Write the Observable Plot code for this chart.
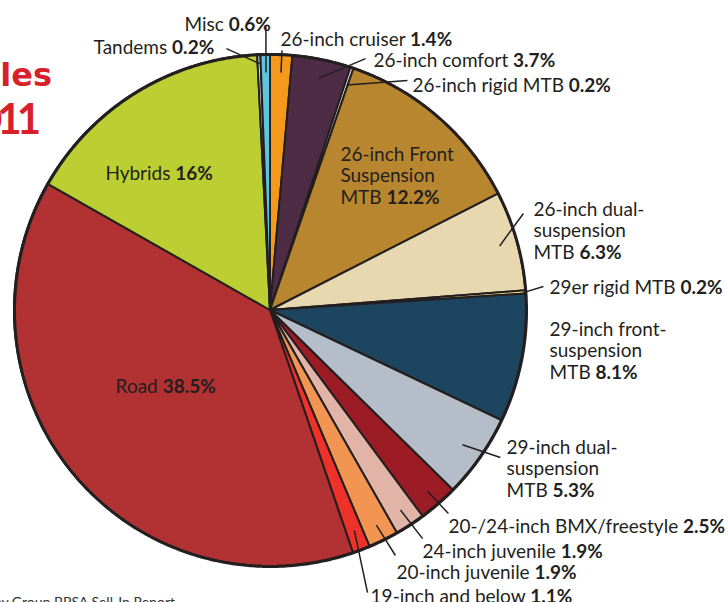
<!DOCTYPE html>
<html>
<head>
<meta charset="utf-8">
<script src="https://cdn.jsdelivr.net/npm/d3@7"></script>
<script src="https://cdn.jsdelivr.net/npm/@observablehq/plot@0.6"></script>
<style>
  html, body { margin: 0; padding: 0; background: #fff; }
  body { width: 728px; height: 602px; overflow: hidden; position: relative; font-family: Lato, "Open Sans", sans-serif; }
  #chart { position: absolute; left: 0; top: 0; }
  .title { position: absolute; color: #d81f2a; font-weight: 700; white-space: nowrap; text-align: right; }
  .source { position: absolute; color: #333; font-size: 14px; white-space: nowrap; text-align: right; }
</style>
</head>
<body>
<div id="chart"></div>
<div class="title" style="right:676px; top:55px; font-size:32px; line-height:40px; font-family:'DejaVu Sans', sans-serif;">Bicycle Sales</div>
<div class="title" style="right:692px; top:93px; font-size:42px; line-height:50px; letter-spacing:-5px; font-family:Lato, sans-serif;">2011</div>
<div class="source" style="right:553px; top:593px;">Source: Gluskin Townley Group BPSA Sell-In Report</div>
<script>
// ---- data ----
const categories = ["26-inch cruiser", "26-inch comfort", "26-inch rigid MTB", "26-inch Front Suspension MTB",
  "26-inch dual-suspension MTB", "29er rigid MTB", "29-inch front-suspension MTB", "29-inch dual-suspension MTB",
  "20-/24-inch BMX/freestyle", "24-inch juvenile", "20-inch juvenile", "19-inch and below",
  "Road", "Hybrids", "Tandems", "Misc"];
const shares = [1.4, 3.7, 0.2, 12.2, 6.3, 0.2, 8.1, 5.3, 2.5, 1.9, 1.9, 1.1, 38.5, 16, 0.2, 0.6];
const labelTexts = ["26-inch cruiser", "26-inch comfort", "26-inch rigid MTB", "26-inch Front\nSuspension\nMTB",
  "26-inch dual-\nsuspension\nMTB", "29er rigid MTB", "29-inch front-\nsuspension\nMTB", "29-inch dual-\nsuspension\nMTB",
  "20-/24-inch BMX/freestyle", "24-inch juvenile", "20-inch juvenile", "19-inch and below",
  "Road", "Hybrids", "Tandems", "Misc"];
const colors = ["#f5991d", "#4f2c45", "#e8e6e0", "#b8862e", "#e8d8b0", "#f3e37a", "#1e4560", "#b5bec8",
  "#9c1c26", "#e2b4a7", "#f39552", "#ee3129", "#b23233", "#bccf32", "#e8e8e8", "#5dc6dc"];

// ---- label layout (pie units: radius = 1, centre = 0,0) ----
const labelX = [0.039, 0.402, 0.555, 0.273, 1.027, 1.090, 1.090, 0.922, 0.695, 0.594, 0.492, 0.391, -0.605, -0.645, -0.691, -0.336];
const labelY = [1.094, 1.012, 0.914, 0.645, 0.430, 0.125, -0.039, -0.500, -0.809, -0.906, -0.988, -1.082, -0.262, 0.570, 1.0625, 1.152];
const leaderInner = [0.93, 0.925, 0.93, null, 0.93, 0.99, null, 0.915, 0.935, 0.93, 0.935, 0.92, null, null, 0.965, 0.93];
const leaderOuterX = [0.045, 0.371, 0.535, null, 0.988, 1.066, null, 0.898, 0.695, 0.594, 0.488, 0.379, null, null, -0.172, -0.018];
const leaderOuterY = [1.016, 0.984, 0.898, null, 0.379, 0.094, null, -0.574, -0.793, -0.891, -0.957, -1.102, null, null, 1.023, 1.113];

const rows = categories.map((name, i) => ({name, share: shares[i], color: colors[i], i}));
const arcs = d3.pie().sort(null).value(d => d.share)(rows);

// wedge polygons
const wedgePoints = [];
for (const a of arcs) {
  const n = Math.max(2, Math.ceil((a.endAngle - a.startAngle) / 0.004));
  for (let k = 0; k <= n; k++) {
    const t = a.startAngle + (a.endAngle - a.startAngle) * k / n;
    wedgePoints.push({name: a.data.name, x: Math.sin(t), y: Math.cos(t), bx: 0, by: 0});
  }
}
const rim = d3.range(0, 721).map(k => {
  const t = k / 720 * 2 * Math.PI;
  return {x: Math.sin(t), y: Math.cos(t)};
});

const labels = arcs.map((a, i) => {
  const mid = (a.startAngle + a.endAngle) / 2;
  const r = leaderInner[i];
  return {
    text: `${labelTexts[i]} ${shares[i]}%`,
    x: labelX[i], y: labelY[i],
    lx1: r == null ? null : r * Math.sin(mid),
    ly1: r == null ? null : r * Math.cos(mid),
    lx2: leaderOuterX[i], ly2: leaderOuterY[i]
  };
});
const leaders = labels.filter(d => d.lx1 != null);

const ink = "#231f20";
const chart = Plot.plot({
  width: 728,
  height: 602,
  margin: 0,
  x: {domain: [-1, 1], range: [14, 526], axis: null},
  y: {domain: [-1, 1], range: [566, 54], axis: null},
  color: {domain: categories, range: colors},
  style: {fontFamily: "Lato, 'Open Sans', sans-serif", background: "transparent", overflow: "visible"},
  marks: [
    Plot.area(wedgePoints, {x1: "bx", y1: "by", x2: "x", y2: "y", z: "name", fill: "name",
      stroke: ink, strokeWidth: 2, strokeLinejoin: "round"}),
    Plot.line(rim, {x: "x", y: "y", stroke: ink, strokeWidth: 3}),
    Plot.link(leaders, {x1: "lx1", y1: "ly1", x2: "lx2", y2: "ly2", stroke: ink, strokeWidth: 1.5}),
    Plot.text(labels, {x: "x", y: "y", text: "text", textAnchor: "start", lineAnchor: "top",
      fontSize: 19, lineHeight: 1.13, fill: ink})
  ]
});
document.getElementById("chart").appendChild(chart);

// bold the percentage at the end of each label
d3.select(chart).selectAll('g[aria-label="text"] text').each(function () {
  const tspans = this.querySelectorAll("tspan");
  const target = tspans.length ? tspans[tspans.length - 1] : this;
  const m = target.textContent.match(/^(.*\s)(\S+%)$/);
  if (!m) return;
  target.textContent = m[1];
  const b = document.createElementNS("http://www.w3.org/2000/svg", "tspan");
  b.setAttribute("font-weight", "700");
  b.textContent = m[2];
  target.appendChild(b);
});
</script>
</body>
</html>
